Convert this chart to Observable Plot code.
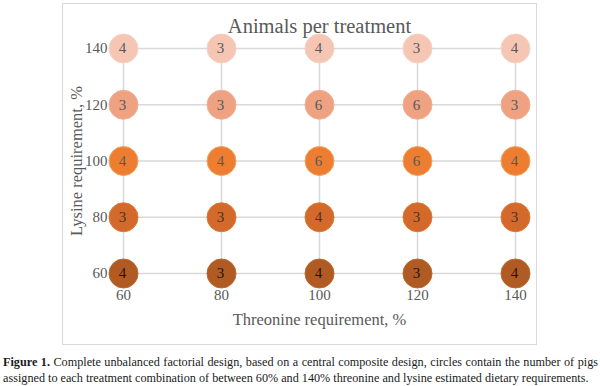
<!DOCTYPE html>
<html>
<head>
<meta charset="utf-8">
<script src="https://cdn.jsdelivr.net/npm/d3@7"></script>
<script src="https://cdn.jsdelivr.net/npm/@observablehq/plot@0.6"></script>
<style>
  html, body { margin: 0; padding: 0; background: #fff; }
  body { width: 600px; height: 386px; position: relative; overflow: hidden; font-family: "Liberation Serif", serif; }
  #frame { position: absolute; left: 62px; top: 3px; width: 473px; height: 340px; border: 1px solid #d9d9d9; }
  #frame svg { display: block; }
  #caption { position: absolute; left: 3px; top: 354px; width: 595px; font-size: 12.2px; line-height: 16px; color: #1a1a1a; }
  #caption div { white-space: nowrap; text-align: justify; text-align-last: justify; }
</style>
</head>
<body>
<div id="frame"></div>
<div id="caption">
  <div><b>Figure 1.</b> Complete unbalanced factorial design, based on a central composite design, circles contain the number of pigs</div>
  <div style="text-align-last:left">assigned to each treatment combination of between 60% and 140% threonine and lysine estimated dietary requirements.</div>
</div>
<script>
const title = "Animals per treatment";
const xLabel = "Threonine requirement, %";
const yLabel = "Lysine requirement, %";
const threonine = [60, 80, 100, 120, 140];
const lysine = [140, 120, 100, 80, 60];
// pigs per treatment, rows = lysine (140 → 60), columns = threonine (60 → 140)
const counts = [
  [4, 3, 4, 3, 4],
  [3, 3, 6, 6, 3],
  [4, 4, 6, 6, 4],
  [3, 3, 4, 3, 3],
  [4, 3, 4, 3, 4]
];
const rowFill = ["#f4c6b3", "#eea282", "#ed7d31", "#d3692a", "#b05a24"];
const rowStroke = ["#f7d2c2", "#f2b092", "#f7a35f", "#df7a38", "#bf682d"];
const rowText = ["#595959", "#595959", "#595959", "#4d3324", "#24130a"];

const cells = [];
lysine.forEach((l, i) => threonine.forEach((t, j) => cells.push({t, l, n: counts[i][j], row: i})));

const W = 473, H = 340;
const chart = Plot.plot({
  width: W,
  height: H,
  marginLeft: 60,
  marginRight: 21,
  marginTop: 44,
  marginBottom: 71,
  style: {fontFamily: "'Liberation Serif', serif", background: "transparent"},
  x: {domain: [60, 140], axis: null},
  y: {domain: [60, 140], axis: null},
  color: {type: "identity"},
  marks: [
    Plot.ruleX(threonine, {x: d => d, stroke: "#d9d9d9", strokeWidth: 1.5}),
    Plot.ruleY(lysine, {y: d => d, stroke: "#d9d9d9", strokeWidth: 1.5}),
    Plot.dot(cells, {x: "t", y: "l", r: 14.5, fill: d => rowFill[d.row], stroke: d => rowStroke[d.row], strokeWidth: 1}),
    Plot.text(cells, {x: "t", y: "l", text: d => String(d.n), fill: d => rowText[d.row], fontSize: 15, dx: -1}),
    Plot.axisX(threonine, {anchor: "bottom", tickSize: 0, tickPadding: 16, fontSize: 15, fill: "#595959", label: null}),
    Plot.axisY(lysine, {anchor: "left", tickSize: 0, tickPadding: 16, fontSize: 15, fill: "#595959", label: null}),
    Plot.text([title], {frameAnchor: "top", dy: -22.5, fontSize: 20.5, fill: "#595959", lineAnchor: "middle"}),
    Plot.text([xLabel], {frameAnchor: "bottom", dy: 46, fontSize: 16.5, fill: "#595959", lineAnchor: "middle"}),
    Plot.text([yLabel], {frameAnchor: "left", dx: -47, rotate: -90, textAnchor: "middle", fontSize: 16.5, fill: "#595959", lineAnchor: "middle"})
  ]
});
document.getElementById("frame").appendChild(chart);
</script>
</body>
</html>
